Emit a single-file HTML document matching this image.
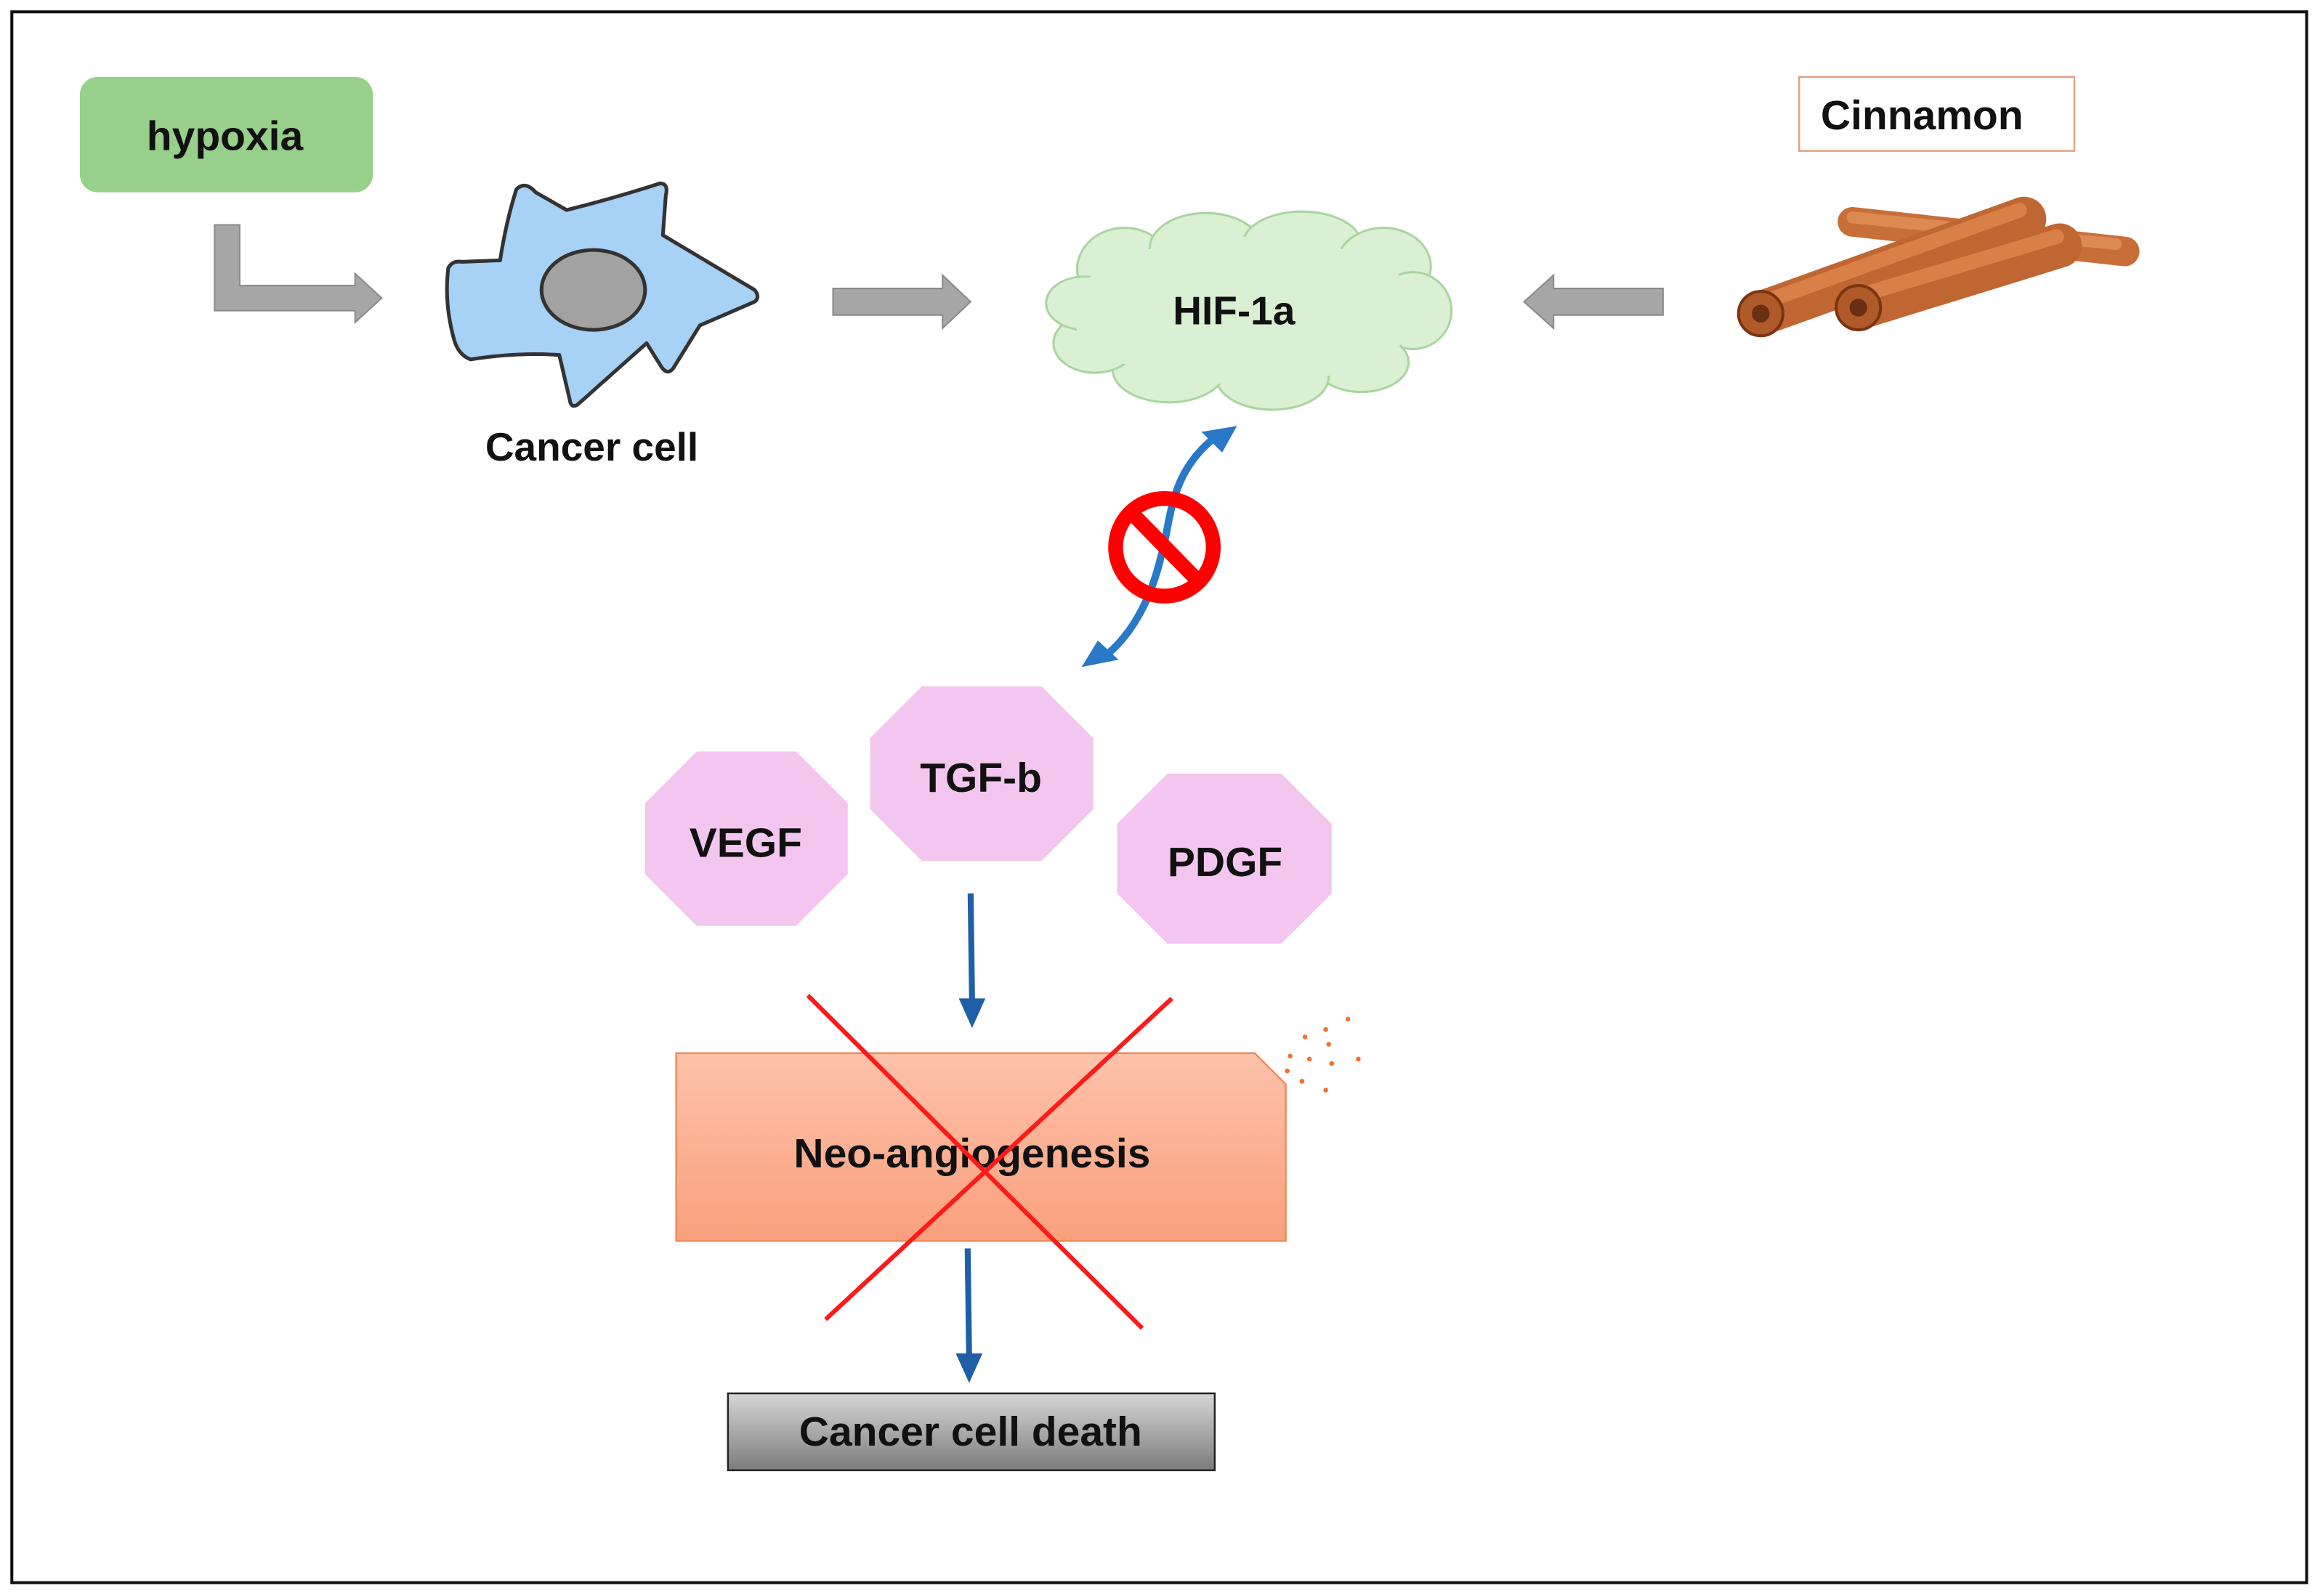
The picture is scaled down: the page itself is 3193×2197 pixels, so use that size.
<!DOCTYPE html>
<html><head><meta charset="utf-8"><style>
html,body{margin:0;padding:0;background:#fff;width:3193px;height:2197px;overflow:hidden}
svg{display:block}
text{font-family:"Liberation Sans",sans-serif;font-weight:bold;fill:#111;text-anchor:middle;dominant-baseline:central}
</style></head><body>
<svg width="3193" height="2197" viewBox="0 0 1568 1079" preserveAspectRatio="none" xmlns="http://www.w3.org/2000/svg">
<defs>
<linearGradient id="neo" x1="0" y1="0" x2="0" y2="1"><stop offset="0" stop-color="#fdc2ab"/><stop offset="1" stop-color="#f9a07c"/></linearGradient>
<linearGradient id="gr" x1="0" y1="0" x2="0" y2="1"><stop offset="0" stop-color="#d6d6d6"/><stop offset="1" stop-color="#7c7c7c"/></linearGradient>
</defs>
<rect x="8" y="8" width="1551" height="1062" fill="#fff" stroke="#111" stroke-width="2"/>
<!-- hypoxia -->
<rect x="54" y="52" width="198" height="78" rx="12" fill="#96d08a"/>
<text x="152" y="92" font-size="28">hypoxia</text>
<!-- L arrow -->
<path d="M145,152 H162 V193 H240 V185 L258,201.5 L240,218 V210 H145 Z" fill="#a6a6a6" stroke="#8a8a8a" stroke-width="1"/>
<!-- cancer cell -->
<path d="M349,128 Q355,122 362,130 L383,142 Q415,134 446,124 Q452,124 450,132 L448,159 L510,196 Q514,201 510,204 L473,220 L455,249 Q451,254 447,248 L437,232 L391,273 Q386,277 385,270 L378,240 Q350,238 318,243 Q310,240 307,230 Q300,205 303,181 Q306,176 312,177 L338,176 Q342,150 349,128 Z" fill="#a7d1f5" stroke="#333" stroke-width="2.5" stroke-linejoin="round"/>
<ellipse cx="401" cy="196" rx="35" ry="27" fill="#a2a2a2" stroke="#333" stroke-width="2.5"/>
<text x="400" y="302" font-size="27">Cancer cell</text>
<!-- arrow 2 -->
<path d="M563,195 H637 V186 L656,204 L637,222 V213 H563 Z" fill="#a6a6a6" stroke="#8a8a8a" stroke-width="1"/>
<!-- cloud -->
<g fill="#d9f0d3" stroke="#a9d5a0" stroke-width="1.5">
<ellipse cx="760" cy="182" rx="32" ry="28"/><ellipse cx="815" cy="168" rx="38" ry="24"/><ellipse cx="880" cy="165" rx="40" ry="22"/>
<ellipse cx="935" cy="180" rx="32" ry="26"/><ellipse cx="955" cy="210" rx="26" ry="26"/><ellipse cx="920" cy="245" rx="32" ry="20"/>
<ellipse cx="860" cy="255" rx="38" ry="22"/><ellipse cx="790" cy="250" rx="38" ry="22"/><ellipse cx="740" cy="232" rx="28" ry="20"/><ellipse cx="733" cy="205" rx="26" ry="18"/>
</g>
<ellipse cx="842" cy="210" rx="118" ry="50" fill="#d9f0d3"/>
<text x="834" y="210" font-size="27">HIF-1a</text>
<!-- arrow left -->
<path d="M1124,195 H1050 V186 L1030,204 L1050,222 V213 H1124 Z" fill="#a6a6a6" stroke="#8a8a8a" stroke-width="1"/>
<!-- cinnamon -->
<rect x="1216" y="52" width="186" height="50" fill="#fff" stroke="#e0a080" stroke-width="1.2"/>
<text x="1299" y="78" font-size="28">Cinnamon</text>
<g stroke-linecap="round">
<line x1="1252" y1="150" x2="1436" y2="170" stroke="#c86e38" stroke-width="20"/>
<line x1="1252" y1="147" x2="1430" y2="165" stroke="#dc8a52" stroke-width="8"/>
<line x1="1190" y1="212" x2="1368" y2="148" stroke="#c06632" stroke-width="30"/>
<line x1="1190" y1="205" x2="1365" y2="142" stroke="#d88048" stroke-width="10"/>
<line x1="1256" y1="208" x2="1392" y2="166" stroke="#c06632" stroke-width="30"/>
<line x1="1256" y1="200" x2="1390" y2="160" stroke="#d88048" stroke-width="10"/>
</g>
<circle cx="1190" cy="212" r="15" fill="#b05a2a" stroke="#7a3510" stroke-width="2"/><circle cx="1190" cy="212" r="6" fill="#6a2e10"/>
<circle cx="1256" cy="208" r="15" fill="#b05a2a" stroke="#7a3510" stroke-width="2"/><circle cx="1256" cy="208" r="6" fill="#6a2e10"/>
<!-- blue curved double arrow -->
<path d="M822,295 C790,320 792,350 785,375 C778,405 765,430 745,445" fill="none" stroke="#2a78c8" stroke-width="5"/>
<path d="M836,288 L812,292 L826,306 Z" fill="#2a78c8"/>
<path d="M731,451 L756,446 L742,433 Z" fill="#2a78c8"/>
<circle cx="787" cy="370" r="33" fill="none" stroke="#f00" stroke-width="10"/>
<line x1="765" y1="347" x2="810" y2="393" stroke="#f00" stroke-width="10"/>
<!-- octagons -->
<g fill="#f3c6ef">
<polygon points="471,508 538,508 573,543 573,591 538,626 471,626 436,591 436,543"/>
<polygon points="623,464 704,464 739,499 739,547 704,582 623,582 588,547 588,499"/>
<polygon points="789,523 866,523 900,557 900,604 866,638 789,638 755,604 755,557"/>
</g>
<text x="504" y="570" font-size="28">VEGF</text>
<text x="663" y="526" font-size="28">TGF-b</text>
<text x="828" y="583" font-size="28">PDGF</text>
<!-- arrows down -->
<line x1="656" y1="604" x2="657" y2="678" stroke="#1f5fa8" stroke-width="4"/>
<path d="M648,675 L666,675 L657,695 Z" fill="#1f5fa8"/>
<line x1="654" y1="844" x2="655" y2="918" stroke="#1f5fa8" stroke-width="4"/>
<path d="M646,915 L664,915 L655,935 Z" fill="#1f5fa8"/>
<!-- neo box -->
<path d="M457,712 H848 L869,733 V839 H457 Z" fill="url(#neo)" stroke="#f08a5a" stroke-width="1.2"/>
<text x="657" y="780" font-size="28">Neo-angiogenesis</text>
<g fill="#f07030">
<circle cx="911" cy="689" r="1.6"/><circle cx="896" cy="696" r="1.6"/><circle cx="882" cy="701" r="1.6"/><circle cx="898" cy="706" r="1.6"/>
<circle cx="872" cy="714" r="1.6"/><circle cx="885" cy="716" r="1.6"/><circle cx="900" cy="719" r="1.6"/><circle cx="918" cy="716" r="1.6"/>
<circle cx="880" cy="731" r="1.6"/><circle cx="896" cy="737" r="1.6"/><circle cx="870" cy="724" r="1.6"/>
</g>
<line x1="546" y1="673" x2="772" y2="898" stroke="#ff1a1a" stroke-width="3"/>
<line x1="792" y1="675" x2="558" y2="892" stroke="#ff1a1a" stroke-width="3"/>
<!-- death -->
<rect x="492" y="942" width="329" height="52" fill="url(#gr)" stroke="#222" stroke-width="1.2"/>
<text x="656" y="968" font-size="28">Cancer cell death</text>
</svg>
</body></html>
